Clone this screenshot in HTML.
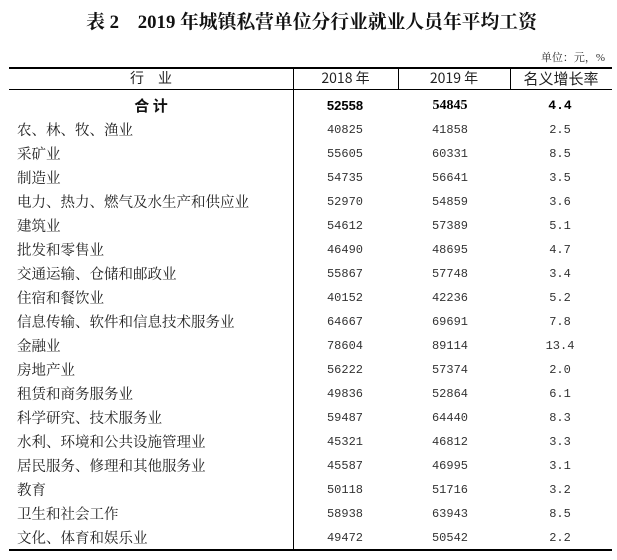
<!DOCTYPE html>
<html><head><meta charset="utf-8"><style>
body{margin:0;width:617px;height:560px;background:#fff;position:relative;overflow:hidden;font-family:"Liberation Serif","Noto Serif CJK SC","Noto Sans CJK SC",serif;color:#111}
.t{position:absolute;left:0;width:623px;top:7px;text-align:center;font-size:18.8px;font-weight:bold;font-family:"Liberation Serif","Noto Serif CJK SC",serif}
.u{position:absolute;right:12px;top:49px;font-size:11px;color:#333}
.h{position:absolute;left:9px;width:603px;background:#000}
.v{position:absolute;width:1px;background:#000}
.r{position:absolute;left:0;width:617px;height:24px;line-height:24px;font-size:14px}
.r span{position:absolute;top:0}
.n{font-family:"Liberation Mono",monospace;font-size:12px;text-align:center;width:100px;color:#333}
.c1{left:295px}.c2{left:400px}.c3{left:510px}
.nm{left:17px;font-family:"Noto Serif CJK SC","Noto Sans CJK SC",serif;font-size:14.5px;color:#222}
</style></head><body>
<div class="t">表 2　2019 年城镇私营单位分行业就业人员年平均工资</div>
<div class="u">单位：元，%</div>
<div class="h" style="top:67px;height:2px"></div>
<div class="h" style="top:89px;height:1px"></div>
<div class="h" style="top:549px;height:2px"></div>
<div class="v" style="left:293px;top:69px;height:480px"></div>
<div class="v" style="left:398px;top:69px;height:20px"></div>
<div class="v" style="left:510px;top:69px;height:20px"></div>
<div class="r" style="top:68px;height:21px;line-height:21px;font-family:'Noto Sans CJK SC',sans-serif;font-size:14px;color:#222">
<span style="left:9px;width:284px;text-align:center">行　业</span>
<span style="left:293px;width:105px;text-align:center">2018 年</span>
<span style="left:398px;width:112px;text-align:center">2019 年</span>
<span style="left:510px;width:102px;text-align:center;font-size:15px">名义增长率</span>
</div>
<div class="r" style="top:94px;font-weight:bold"><span style="left:9px;width:284px;text-align:center;font-family:'Noto Sans CJK SC',sans-serif;font-weight:bold;font-size:15px">合 计</span><span class="n c1" style="font-weight:bold;font-family:'Liberation Sans',sans-serif;font-size:13px;color:#000">52558</span><span class="n c2" style="font-weight:bold;font-family:'Liberation Serif',serif;font-size:14px;color:#000">54845</span><span class="n c3" style="font-weight:bold;color:#000;font-size:13px">4.4</span></div>
<div class="r" style="top:118px"><span class="nm">农、林、牧、渔业</span><span class="n c1">40825</span><span class="n c2">41858</span><span class="n c3">2.5</span></div>
<div class="r" style="top:142px"><span class="nm">采矿业</span><span class="n c1">55605</span><span class="n c2">60331</span><span class="n c3">8.5</span></div>
<div class="r" style="top:166px"><span class="nm">制造业</span><span class="n c1">54735</span><span class="n c2">56641</span><span class="n c3">3.5</span></div>
<div class="r" style="top:190px"><span class="nm">电力、热力、燃气及水生产和供应业</span><span class="n c1">52970</span><span class="n c2">54859</span><span class="n c3">3.6</span></div>
<div class="r" style="top:214px"><span class="nm">建筑业</span><span class="n c1">54612</span><span class="n c2">57389</span><span class="n c3">5.1</span></div>
<div class="r" style="top:238px"><span class="nm">批发和零售业</span><span class="n c1">46490</span><span class="n c2">48695</span><span class="n c3">4.7</span></div>
<div class="r" style="top:262px"><span class="nm">交通运输、仓储和邮政业</span><span class="n c1">55867</span><span class="n c2">57748</span><span class="n c3">3.4</span></div>
<div class="r" style="top:286px"><span class="nm">住宿和餐饮业</span><span class="n c1">40152</span><span class="n c2">42236</span><span class="n c3">5.2</span></div>
<div class="r" style="top:310px"><span class="nm">信息传输、软件和信息技术服务业</span><span class="n c1">64667</span><span class="n c2">69691</span><span class="n c3">7.8</span></div>
<div class="r" style="top:334px"><span class="nm">金融业</span><span class="n c1">78604</span><span class="n c2">89114</span><span class="n c3">13.4</span></div>
<div class="r" style="top:358px"><span class="nm">房地产业</span><span class="n c1">56222</span><span class="n c2">57374</span><span class="n c3">2.0</span></div>
<div class="r" style="top:382px"><span class="nm">租赁和商务服务业</span><span class="n c1">49836</span><span class="n c2">52864</span><span class="n c3">6.1</span></div>
<div class="r" style="top:406px"><span class="nm">科学研究、技术服务业</span><span class="n c1">59487</span><span class="n c2">64440</span><span class="n c3">8.3</span></div>
<div class="r" style="top:430px"><span class="nm">水利、环境和公共设施管理业</span><span class="n c1">45321</span><span class="n c2">46812</span><span class="n c3">3.3</span></div>
<div class="r" style="top:454px"><span class="nm">居民服务、修理和其他服务业</span><span class="n c1">45587</span><span class="n c2">46995</span><span class="n c3">3.1</span></div>
<div class="r" style="top:478px"><span class="nm">教育</span><span class="n c1">50118</span><span class="n c2">51716</span><span class="n c3">3.2</span></div>
<div class="r" style="top:502px"><span class="nm">卫生和社会工作</span><span class="n c1">58938</span><span class="n c2">63943</span><span class="n c3">8.5</span></div>
<div class="r" style="top:526px"><span class="nm">文化、体育和娱乐业</span><span class="n c1">49472</span><span class="n c2">50542</span><span class="n c3">2.2</span></div>
</body></html>
